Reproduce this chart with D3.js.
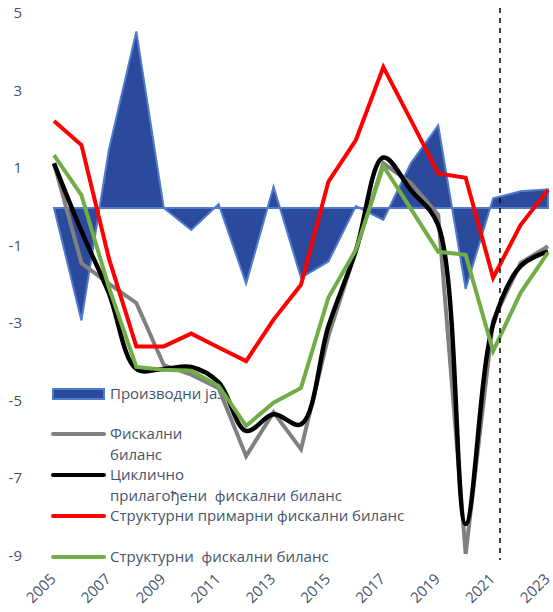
<!DOCTYPE html>
<html>
<head>
<meta charset="utf-8">
<script src="https://cdn.jsdelivr.net/npm/d3@7"></script>
<style>
  body { margin: 0; background: #fff; }
  text { font-family: "Open Sans", "Liberation Sans", sans-serif; fill: #44546a; }
</style>
</head>
<body>
<svg id="chart" width="553" height="612"></svg>
<script>
// data
var years = d3.range(2005, 2024)
var outputGap = [0, -2.9, 1.5, 4.55, 0, -0.57, 0.1, -1.95, 0.55, -1.8, -1.38, 0.05, -0.31, 1.15, 2.13, -2.09, 0.25, 0.43, 0.48]
var fiscalBalance = [1.15, -1.42, -1.95, -2.45, -4.05, -4.3, -4.65, -6.4, -5.27, -6.22, -3.3, -1.1, 1.15, 0.64, -0.18, -8.92, -2.9, -1.42, -0.99]
var cyclAdjusted = [1.15, -0.6, -2.2, -4.15, -4.15, -4.1, -4.5, -5.75, -5.32, -5.58, -3.05, -1.1, 1.3, 0.46, -0.45, -8.15, -3.0, -1.5, -1.12]
var structPrimary = [2.24, 1.62, -1.3, -3.57, -3.57, -3.24, -3.6, -3.95, -2.88, -1.98, 0.68, 1.75, 3.63, 2.27, 0.89, 0.78, -1.8, -0.44, 0.46]
var structBalance = [1.36, 0.33, -2.05, -4.1, -4.17, -4.2, -4.59, -5.62, -5.02, -4.64, -2.31, -1.08, 1.08, -0.02, -1.13, -1.21, -3.69, -2.19, -1.15]
var yTicks = [5, 3, 1, -1, -3, -5, -7, -9]
var xTicks = [2005, 2007, 2009, 2011, 2013, 2015, 2017, 2019, 2021, 2023]
var forecastStart = 2021.25

var svg = d3.select("#chart")

var x = d3.scaleLinear().domain([2005, 2023]).range([54, 548])
var y = d3.scaleLinear().domain([-9, 5]).range([557, 14])

// y tick labels
svg.selectAll(".ylab").data(yTicks).enter().append("text")
  .attr("x", 22).attr("y", d => y(d))
  .attr("text-anchor", "end").attr("dominant-baseline", "middle")
  .style("font-size", "15px").text(d => d)

// x tick labels, rotated
svg.selectAll(".xlab").data(xTicks).enter().append("text")
  .attr("text-anchor", "end").attr("dominant-baseline", "middle")
  .attr("transform", d => "translate(" + x(d) + ",577) rotate(-45)")
  .style("font-size", "15px").text(d => d)

// output gap area
var area = d3.area().x((d, i) => x(years[i])).y0(y(0)).y1(d => y(d))
svg.append("path").datum(outputGap).attr("d", area)
  .style("fill", "#2b4a9b").style("stroke", "#4f7ccc").style("stroke-width", 2)

// legend
var legend = [
  {name: ["Производни јаз"], ly: 394, color: "#2b4a9b", type: "area"},
  {name: ["Фискални", "биланс"], ly: 434, color: "#808080"},
  {name: ["Циклично", "прилагођени  фискални биланс"], ly: 475, color: "#000000"},
  {name: ["Структурни примарни фискални биланс"], ly: 516, color: "#ff0000"},
  {name: ["Структурни  фискални биланс"], ly: 557, color: "#70ad47"}
]
legend.forEach(function(l) {
  if (l.type == "area") {
    svg.append("rect").attr("x", 53).attr("y", l.ly - 5).attr("width", 51).attr("height", 10)
      .style("fill", "#2b4a9b").style("stroke", "#4f7ccc").style("stroke-width", 2)
  } else {
    svg.append("line").attr("x1", 53).attr("x2", 104).attr("y1", l.ly).attr("y2", l.ly)
      .style("stroke", l.color).style("stroke-width", 4).style("stroke-linecap", "round")
  }
  l.name.forEach(function(t, j) {
    svg.append("text").attr("x", 110).attr("y", l.ly + 1 + j * 21)
      .attr("dominant-baseline", "middle").style("font-size", "15px")
      .style("white-space", "pre").text(t)
  })
})

// lines
var line = d3.line().x((d, i) => x(years[i])).y(d => y(d))
var smooth = d3.line().x((d, i) => x(years[i])).y(d => y(d)).curve(d3.curveCatmullRom.alpha(0.5))

svg.append("path").datum(fiscalBalance).attr("d", line)
  .style("fill", "none").style("stroke", "#808080").style("stroke-width", 4)
svg.append("path").datum(cyclAdjusted).attr("d", smooth)
  .style("fill", "none").style("stroke", "#000").style("stroke-width", 4.5)
svg.append("path").datum(structPrimary).attr("d", line)
  .style("fill", "none").style("stroke", "#ff0000").style("stroke-width", 4)
svg.append("path").datum(structBalance).attr("d", line)
  .style("fill", "none").style("stroke", "#70ad47").style("stroke-width", 4)

// forecast divider
svg.append("line").attr("x1", x(forecastStart)).attr("x2", x(forecastStart))
  .attr("y1", 8).attr("y2", 560)
  .style("stroke", "#000").style("stroke-width", 1.5).style("stroke-dasharray", "5,5")
</script>
</body>
</html>
